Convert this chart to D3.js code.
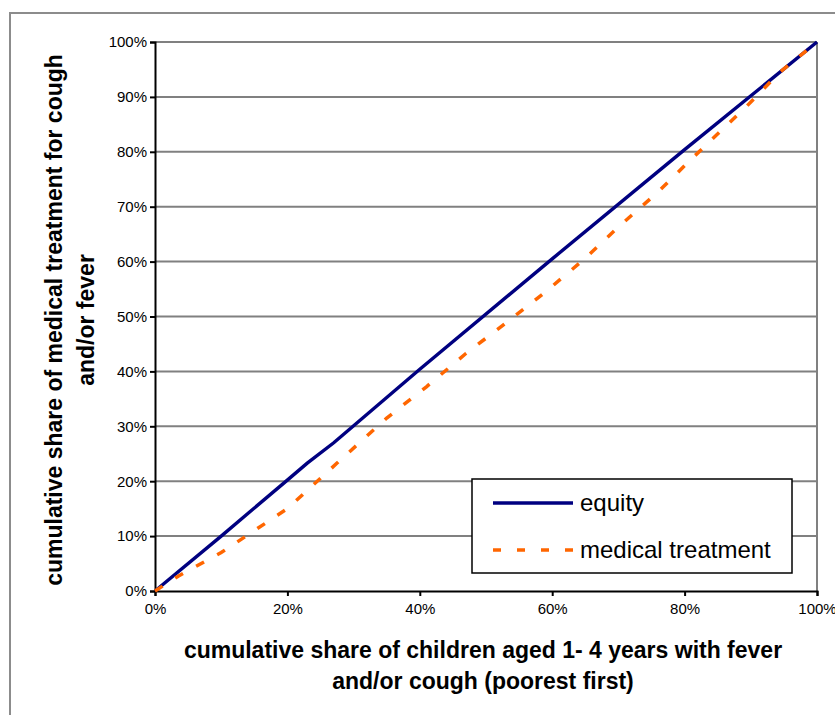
<!DOCTYPE html>
<html>
<head>
<meta charset="utf-8">
<script src="https://cdn.jsdelivr.net/npm/d3@7"></script>
<style>
  body { margin: 0; background: #fff; }
  svg { display: block; font-family: "Liberation Sans", Arial, sans-serif; }
</style>
</head>
<body>
<div id="chart"></div>
<script>
// Data (percent)
const equityX = [0, 10, 19.5, 23, 27, 40, 60, 80, 100];
const equityY = [0, 10, 19.7, 23.3, 27, 40.4, 60.5, 80.4, 100];

const medicalX = [0, 3.5, 10, 20, 27.5, 35, 41, 47, 53, 59, 64.7, 70, 76, 81.3, 89.3, 94.3, 100];
const medicalY = [0, 2.7, 7, 15, 23.3, 31.5, 37.2, 43.3, 48.8, 54.5, 60.3, 66.3, 72.7, 79, 88.2, 94.4, 100];

const xTicks = [0, 20, 40, 60, 80, 100];
const yTicks = [0, 10, 20, 30, 40, 50, 60, 70, 80, 90, 100];

const seriesNames = ['equity', 'medical treatment'];

const width = 835, height = 715;
const margins = { top: 42, right: 18, bottom: 124, left: 155 };
const plotWidth = width - margins.left - margins.right;
const plotHeight = height - margins.top - margins.bottom;

const svg = d3.select('#chart').append('svg')
    .attr('width', width)
    .attr('height', height);

// outer chart border
svg.append('rect')
    .attr('x', 10).attr('y', 13)
    .attr('width', 840).attr('height', 720)
    .attr('fill', 'none')
    .attr('stroke', '#8c8c8c')
    .attr('stroke-width', 2);

const x = d3.scaleLinear().domain([0, 100]).range([0, plotWidth]);
const y = d3.scaleLinear().domain([0, 100]).range([plotHeight, 0]);

const plotArea = svg.append('g')
    .attr('transform', `translate(${margins.left},${margins.top})`);

// gridlines
plotArea.append('g')
    .selectAll('line')
    .data(yTicks.filter(d => d > 0))
    .join('line')
    .attr('x1', 0).attr('x2', plotWidth)
    .attr('y1', d => y(d)).attr('y2', d => y(d))
    .attr('stroke', '#808080')
    .attr('stroke-width', 2);

// right border of plot area
plotArea.append('line')
    .attr('x1', plotWidth).attr('x2', plotWidth)
    .attr('y1', 0).attr('y2', plotHeight)
    .attr('stroke', '#808080')
    .attr('stroke-width', 2);

// axes
const xAxis = plotArea.append('g')
    .attr('transform', `translate(0,${plotHeight})`)
    .call(d3.axisBottom(x).tickValues(xTicks).tickFormat(d => d + '%').tickSizeOuter(0).tickSize(5).tickPadding(7));

const yAxis = plotArea.append('g')
    .call(d3.axisLeft(y).tickValues(yTicks).tickFormat(d => d + '%').tickSizeOuter(0).tickSize(5).tickPadding(3));

[xAxis, yAxis].forEach(a => {
    a.select('.domain').attr('stroke', '#000').attr('stroke-width', 2);
    a.selectAll('.tick line').attr('stroke', '#000').attr('stroke-width', 2);
    a.selectAll('.tick text')
        .style('font-size', '15px')
        .style('font-family', '"Liberation Sans", Arial, sans-serif')
        .attr('fill', '#000');
});

// lines
const line = d3.line()
    .x(d => x(d[0]))
    .y(d => y(d[1]));

const equityData = equityX.map((v, i) => [v, equityY[i]]);
const medicalData = medicalX.map((v, i) => [v, medicalY[i]]);

plotArea.append('path')
    .datum(equityData)
    .attr('d', line)
    .attr('fill', 'none')
    .attr('stroke', '#000080')
    .attr('stroke-width', 3.4);

plotArea.append('path')
    .datum(medicalData)
    .attr('d', line)
    .attr('fill', 'none')
    .attr('stroke', '#ff6600')
    .attr('stroke-width', 3.5)
    .attr('stroke-dasharray', '9,15');

// axis titles
const xTitle = svg.append('text')
    .attr('text-anchor', 'middle')
    .style('font-size', '23px')
    .style('font-weight', 'bold');
xTitle.append('tspan').attr('x', 483).attr('y', 658)
    .text('cumulative share of children aged 1- 4 years with fever');
xTitle.append('tspan').attr('x', 483).attr('y', 689)
    .text('and/or cough (poorest first)');

const yTitle = svg.append('text')
    .attr('text-anchor', 'middle')
    .attr('transform', 'rotate(-90)')
    .style('font-size', '23px')
    .style('font-weight', 'bold');
yTitle.append('tspan').attr('x', -320).attr('y', 62)
    .text('cumulative share of medical treatment for cough');
yTitle.append('tspan').attr('x', -320).attr('y', 94)
    .text('and/or fever');

// legend
const legend = svg.append('g').attr('transform', 'translate(472,479)');
legend.append('rect')
    .attr('width', 320).attr('height', 94)
    .attr('fill', '#fff')
    .attr('stroke', '#000')
    .attr('stroke-width', 1.5);

const legendStyles = [
    { color: '#000080', dash: null, w: 3.4 },
    { color: '#ff6600', dash: '8,16', w: 3.5 }
];

seriesNames.forEach((name, i) => {
    const ly = 24 + i * 47;
    legend.append('line')
        .attr('x1', 21).attr('x2', 101)
        .attr('y1', ly).attr('y2', ly)
        .attr('stroke', legendStyles[i].color)
        .attr('stroke-width', legendStyles[i].w)
        .attr('stroke-dasharray', legendStyles[i].dash);
    legend.append('text')
        .attr('x', 108).attr('y', ly + 8)
        .style('font-size', '24px')
        .text(name);
});
</script>
</body>
</html>
